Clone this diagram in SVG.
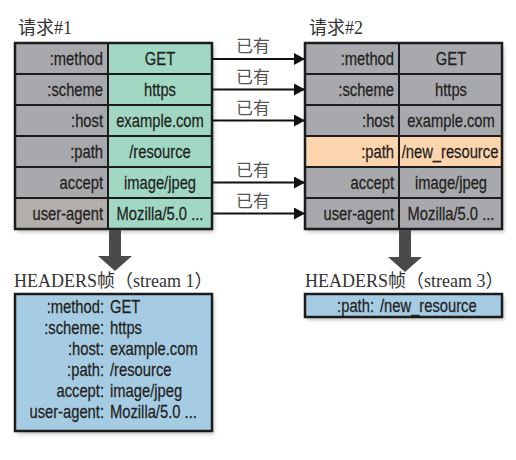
<svg xmlns="http://www.w3.org/2000/svg" width="516" height="460" viewBox="0 0 516 460">
<defs>
<filter id="sh" x="-10%" y="-10%" width="130%" height="130%">
<feDropShadow dx="2" dy="3" stdDeviation="2" flood-color="#000" flood-opacity="0.25"/>
</filter>
<marker id="ah" markerUnits="userSpaceOnUse" markerWidth="12" markerHeight="12" refX="11" refY="6" orient="auto">
<path d="M0,0 L11,6 L0,12 Z" fill="#111"/>
</marker>
</defs>
<style>
.cell{stroke:#1c1c1c;stroke-width:2}
.g{fill:#a7a9ac}
.t{fill:#a0d8c3}
.p{fill:#fcd5ae}
.b{fill:#a6cce4}
.frame{fill:none;stroke:#1c1c1c;stroke-width:2.5}
.tx{font-family:"Liberation Sans",Arial,sans-serif;font-size:18px;fill:#231f20;stroke:#231f20;stroke-width:0.25}
.end{text-anchor:end}
.mid{text-anchor:middle}
.title{font-family:"Liberation Serif","Noto Sans CJK SC",serif;font-size:18px;fill:#333}
.hdr{font-family:"Liberation Serif","Noto Sans CJK SC",serif;font-size:18px;fill:#333}
.lbl{font-family:"Noto Sans CJK SC",sans-serif;font-size:17px;fill:#555}
.conn{stroke:#111;stroke-width:2;fill:none}
.down{fill:#4a4a4a}
</style>

<g id="request1">
<text class="title" x="18" y="34">请求#1</text>
<g filter="url(#sh)">
<rect class="g" x="15" y="43" width="93" height="186"/>
<rect class="t" x="108" y="43" width="104" height="186"/>
</g>
<rect class="g" x="15" y="198" width="93" height="31" style="fill:#b1aeab"/>
<g class="cell" fill="none">
<rect x="15" y="43" width="93" height="31"/><rect x="108" y="43" width="104" height="31"/>
<rect x="15" y="74" width="93" height="31"/><rect x="108" y="74" width="104" height="31"/>
<rect x="15" y="105" width="93" height="31"/><rect x="108" y="105" width="104" height="31"/>
<rect x="15" y="136" width="93" height="31"/><rect x="108" y="136" width="104" height="31"/>
<rect x="15" y="167" width="93" height="31"/><rect x="108" y="167" width="104" height="31"/>
<rect x="15" y="198" width="93" height="31"/><rect x="108" y="198" width="104" height="31"/>
</g>
<rect class="frame" x="15" y="43" width="197" height="186"/>
<text class="tx end" transform="matrix(0.82 0 0 1 103 65)">:method</text>
<text class="tx end" transform="matrix(0.82 0 0 1 103 96)">:scheme</text>
<text class="tx end" transform="matrix(0.82 0 0 1 103 127)">:host</text>
<text class="tx end" transform="matrix(0.82 0 0 1 103 158)">:path</text>
<text class="tx end" transform="matrix(0.82 0 0 1 103 189)">accept</text>
<text class="tx end" transform="matrix(0.82 0 0 1 103 220)">user-agent</text>
<text class="tx mid" transform="matrix(0.82 0 0 1 160 65)">GET</text>
<text class="tx mid" transform="matrix(0.82 0 0 1 160 96)">https</text>
<text class="tx mid" transform="matrix(0.82 0 0 1 160 127)">example.com</text>
<text class="tx mid" transform="matrix(0.82 0 0 1 160 158)">/resource</text>
<text class="tx mid" transform="matrix(0.82 0 0 1 160 189)">image/jpeg</text>
<text class="tx mid" transform="matrix(0.82 0 0 1 160 220)">Mozilla/5.0 ...</text>
</g>

<g id="request2">
<text class="title" x="309" y="34">请求#2</text>
<g filter="url(#sh)">
<rect class="g" x="305" y="43" width="197" height="186"/>
</g>
<rect class="p" x="305" y="136" width="197" height="31"/>
<g class="cell" fill="none">
<rect x="305" y="43" width="94" height="31"/><rect x="399" y="43" width="103" height="31"/>
<rect x="305" y="74" width="94" height="31"/><rect x="399" y="74" width="103" height="31"/>
<rect x="305" y="105" width="94" height="31"/><rect x="399" y="105" width="103" height="31"/>
<rect x="305" y="136" width="94" height="31"/><rect x="399" y="136" width="103" height="31"/>
<rect x="305" y="167" width="94" height="31"/><rect x="399" y="167" width="103" height="31"/>
<rect x="305" y="198" width="94" height="31"/><rect x="399" y="198" width="103" height="31"/>
</g>
<rect class="frame" x="305" y="43" width="197" height="186"/>
<text class="tx end" transform="matrix(0.82 0 0 1 394 65)">:method</text>
<text class="tx end" transform="matrix(0.82 0 0 1 394 96)">:scheme</text>
<text class="tx end" transform="matrix(0.82 0 0 1 394 127)">:host</text>
<text class="tx end" transform="matrix(0.82 0 0 1 394 158)">:path</text>
<text class="tx end" transform="matrix(0.82 0 0 1 394 189)">accept</text>
<text class="tx end" transform="matrix(0.82 0 0 1 394 220)">user-agent</text>
<text class="tx mid" transform="matrix(0.82 0 0 1 451 65)">GET</text>
<text class="tx mid" transform="matrix(0.82 0 0 1 451 96)">https</text>
<text class="tx mid" transform="matrix(0.82 0 0 1 451 127)">example.com</text>
<text class="tx mid" transform="matrix(0.82 0 0 1 450 158)">/new_resource</text>
<text class="tx mid" transform="matrix(0.82 0 0 1 451 189)">image/jpeg</text>
<text class="tx mid" transform="matrix(0.82 0 0 1 451 220)">Mozilla/5.0 ...</text>
</g>

<g id="frame1">
<text class="hdr" x="14" y="287">HEADERS帧（stream 1）</text>
<rect class="b" x="15" y="294" width="197" height="137" filter="url(#sh)"/>
<rect class="frame" x="15" y="294" width="197" height="137"/>
<text class="tx end" transform="matrix(0.82 0 0 1 104 313)">:method:</text>
<text class="tx end" transform="matrix(0.82 0 0 1 104 334)">:scheme:</text>
<text class="tx end" transform="matrix(0.82 0 0 1 104 355)">:host:</text>
<text class="tx end" transform="matrix(0.82 0 0 1 104 376)">:path:</text>
<text class="tx end" transform="matrix(0.82 0 0 1 104 397)">accept:</text>
<text class="tx end" transform="matrix(0.82 0 0 1 104 418)">user-agent:</text>
<text class="tx" transform="matrix(0.82 0 0 1 110 313)">GET</text>
<text class="tx" transform="matrix(0.82 0 0 1 110 334)">https</text>
<text class="tx" transform="matrix(0.82 0 0 1 110 355)">example.com</text>
<text class="tx" transform="matrix(0.82 0 0 1 110 376)">/resource</text>
<text class="tx" transform="matrix(0.82 0 0 1 110 397)">image/jpeg</text>
<text class="tx" transform="matrix(0.82 0 0 1 110 418)">Mozilla/5.0 ...</text>
</g>

<g id="frame2">
<text class="hdr" x="305" y="287">HEADERS帧（stream 3）</text>
<rect class="b" x="305" y="294" width="197" height="23" filter="url(#sh)"/>
<rect class="frame" x="305" y="294" width="197" height="23"/>
<text class="tx end" transform="matrix(0.82 0 0 1 374 312)">:path:</text>
<text class="tx" transform="matrix(0.82 0 0 1 380 312)">/new_resource</text>
</g>

<g id="connectors">
<line class="conn" x1="212" y1="59" x2="305" y2="59" marker-end="url(#ah)"/>
<line class="conn" x1="212" y1="89.5" x2="305" y2="89.5" marker-end="url(#ah)"/>
<line class="conn" x1="212" y1="120.5" x2="305" y2="120.5" marker-end="url(#ah)"/>
<line class="conn" x1="212" y1="182.5" x2="305" y2="182.5" marker-end="url(#ah)"/>
<line class="conn" x1="212" y1="213.5" x2="305" y2="213.5" marker-end="url(#ah)"/>
<text class="lbl" x="236" y="52">已有</text>
<text class="lbl" x="236" y="83">已有</text>
<text class="lbl" x="236" y="114">已有</text>
<text class="lbl" x="236" y="176">已有</text>
<text class="lbl" x="236" y="207">已有</text>
<path class="down" d="M109,230 H121 V256 H132 L115,271 L98,256 H109 Z"/>
<path class="down" d="M399,230 H411 V257 H422 L405,272 L388,257 H399 Z"/>
</g>
</svg>
